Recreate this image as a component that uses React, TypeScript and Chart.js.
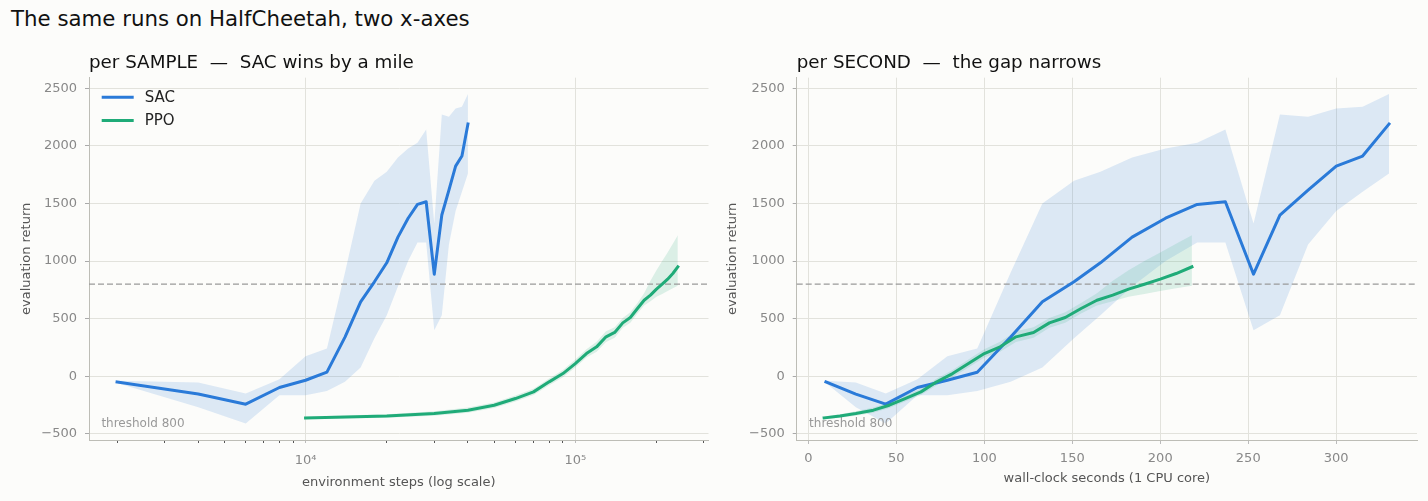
import React, { useEffect, useRef } from "react";
import { Chart, registerables } from "chart.js";

Chart.register(...registerables);

const FONT = '"DejaVu Sans", "Noto Sans", sans-serif';
Chart.defaults.font.family = FONT;

// SAC runs: evaluation every 2k environment steps
const sacSteps = [2000, 4000, 6000, 8000, 10000, 12000, 14000, 16000, 18000, 20000, 22000, 24000, 26000, 28000, 30000, 32000, 34000, 36000, 38000, 40000];
const sacSeconds = [10, 27, 44, 62, 79, 96, 115, 133, 151, 166, 184, 203, 221, 237, 253, 268, 284, 300, 315, 330];
const sacMean = [-50, -155, -243, -98, -35, 35, 340, 646, 820, 985, 1208, 1372, 1492, 1515, 886, 1400, 1616, 1825, 1912, 2190];
const sacUpper = [-40, -55, -151, -26, 174, 240, 900, 1500, 1697, 1775, 1900, 1978, 2027, 2143, 1327, 2274, 2254, 2326, 2340, 2450];
const sacLower = [-60, -270, -411, -165, -165, -128, -49, 76, 330, 530, 780, 1000, 1162, 1162, 400, 530, 1145, 1435, 1602, 1761];

// PPO runs: evaluation every 10k environment steps
const ppoSteps = [10000, 20000, 30000, 40000, 50000, 60000, 70000, 80000, 90000, 100000, 110000, 120000, 130000, 140000, 150000, 160000, 170000, 180000, 190000, 200000, 210000, 220000, 230000, 240000];
const ppoSeconds = [9, 18, 27, 37, 46, 55, 64, 73, 82, 91, 100, 109, 118, 128, 137, 146, 155, 164, 173, 182, 191, 200, 209, 218];
const ppoMean = [-362, -345, -324, -295, -252, -194, -136, -49, 23, 110, 197, 255, 342, 380, 463, 510, 588, 660, 704, 756, 799, 843, 892, 950];
const ppoUpper = [-350, -330, -305, -272, -228, -168, -108, -20, 55, 145, 235, 300, 390, 425, 505, 555, 635, 720, 830, 920, 1000, 1075, 1150, 1225];
const ppoLower = [-374, -360, -343, -318, -276, -220, -164, -78, -9, 75, 162, 212, 297, 335, 420, 465, 545, 615, 650, 690, 715, 740, 765, 785];

const yTicks = [-500, 0, 500, 1000, 1500, 2000, 2500];
const logMajorTicks = [10000, 100000];
const logMinorTicks = [2000, 3000, 4000, 5000, 6000, 7000, 8000, 9000, 20000, 30000, 40000, 50000, 60000, 70000, 80000, 90000, 200000, 300000];
const secondTicks = [0, 50, 100, 150, 200, 250, 300];
const THRESHOLD = 800;

const SAC_COLOR = "#2a7ad8";
const PPO_COLOR = "#1fab78";
const SAC_BAND = "rgba(42, 122, 216, 0.15)";
const PPO_BAND = "rgba(31, 171, 120, 0.15)";
const GRID = "#e2e2dc";
const SPINE = "#bdbdb6";
const TICK_TEXT = "#888888";
const LABEL_TEXT = "#555555";

const pts = (xs: number[], ys: number[]) => xs.map((x, i) => ({ x, y: ys[i] }));
const fmt = (v: number) => (v < 0 ? "\u2212" + Math.abs(v) : String(v));

const thresholdPlugin = {
  id: "threshold",
  beforeDatasetsDraw(chart: any) {
    const { ctx, chartArea, scales } = chart;
    const py = scales.y.getPixelForValue(THRESHOLD);
    ctx.save();
    ctx.setLineDash([6, 3]);
    ctx.strokeStyle = "#999999";
    ctx.lineWidth = 1.4;
    ctx.beginPath();
    ctx.moveTo(chartArea.left, py);
    ctx.lineTo(chartArea.right, py);
    ctx.stroke();
    ctx.setLineDash([]);
    ctx.fillStyle = "#999999";
    ctx.font = "12px " + FONT;
    ctx.textAlign = "left";
    ctx.textBaseline = "alphabetic";
    const w = chartArea.right - chartArea.left;
    const h = chartArea.bottom - chartArea.top;
    ctx.fillText("threshold " + THRESHOLD, chartArea.left + 0.02 * w, chartArea.bottom - 0.037 * h);
    ctx.restore();
  },
};

// legend drawn inside the plot area, upper left (no frame)
const insideLegendPlugin = {
  id: "insideLegend",
  afterDatasetsDraw(chart: any) {
    const { ctx, chartArea } = chart;
    const items = chart.data.datasets.filter((d: any) => d.label);
    ctx.save();
    ctx.font = "15px " + FONT;
    ctx.textAlign = "left";
    ctx.textBaseline = "middle";
    items.forEach((d: any, i: number) => {
      const y = chartArea.top + 19.5 + i * 23.3;
      const x0 = chartArea.left + 12.7;
      ctx.strokeStyle = d.borderColor;
      ctx.lineWidth = 3;
      ctx.lineCap = "butt";
      ctx.beginPath();
      ctx.moveTo(x0, y);
      ctx.lineTo(x0 + 32, y);
      ctx.stroke();
      ctx.fillStyle = "#222222";
      ctx.fillText(d.label, x0 + 43, y + 1);
    });
    ctx.restore();
  },
};

type PanelKind = "steps" | "seconds";

const buildConfig = (kind: PanelKind): any => {
  const isLog = kind === "steps";
  const sacX = isLog ? sacSteps : sacSeconds;
  const ppoX = isLog ? ppoSteps : ppoSeconds;

  const datasets = [
    {
      label: "SAC",
      data: pts(sacX, sacMean),
      borderColor: SAC_COLOR,
      backgroundColor: SAC_COLOR,
      borderWidth: 3,
      pointRadius: 0,
      borderJoinStyle: "round",
      borderCapStyle: "square",
      fill: false,
      order: 1,
    },
    {
      label: "PPO",
      data: pts(ppoX, ppoMean),
      borderColor: PPO_COLOR,
      backgroundColor: PPO_COLOR,
      borderWidth: 3,
      pointRadius: 0,
      borderJoinStyle: "round",
      borderCapStyle: "square",
      fill: false,
      order: 0,
    },
    {
      label: "",
      data: pts(sacX, sacUpper),
      borderColor: "rgba(0,0,0,0)",
      borderWidth: 0,
      pointRadius: 0,
      backgroundColor: SAC_BAND,
      fill: "+1",
      order: 3,
    },
    {
      label: "",
      data: pts(sacX, sacLower),
      borderColor: "rgba(0,0,0,0)",
      borderWidth: 0,
      pointRadius: 0,
      fill: false,
      order: 3,
    },
    {
      label: "",
      data: pts(ppoX, ppoUpper),
      borderColor: "rgba(0,0,0,0)",
      borderWidth: 0,
      pointRadius: 0,
      backgroundColor: PPO_BAND,
      fill: "+1",
      order: 2,
    },
    {
      label: "",
      data: pts(ppoX, ppoLower),
      borderColor: "rgba(0,0,0,0)",
      borderWidth: 0,
      pointRadius: 0,
      fill: false,
      order: 2,
    },
  ];

  const xScale = isLog
    ? {
        type: "logarithmic",
        min: 1574,
        max: 311900,
        afterBuildTicks: (s: any) => {
          s.ticks = [...logMinorTicks, ...logMajorTicks]
            .sort((a, b) => a - b)
            .map((v) => ({ value: v, major: logMajorTicks.includes(v) }));
        },
        afterFit: (s: any) => {
          s.height = 61;
        },
        grid: {
          color: (c: any) => (c.tick && logMajorTicks.includes(c.tick.value) ? GRID : "rgba(0,0,0,0)"),
          tickColor: (c: any) => (c.tick && logMajorTicks.includes(c.tick.value) ? "#bbbbbb" : "#555555"),
          tickLength: 3,
        },
        border: { color: SPINE },
        ticks: {
          autoSkip: false,
          maxRotation: 0,
          color: TICK_TEXT,
          font: { size: 13 },
          padding: 10,
          callback: (v: number) => (v === 10000 ? "10\u2074" : v === 100000 ? "10\u2075" : ""),
        },
        title: {
          display: true,
          text: "environment steps (log scale)",
          color: LABEL_TEXT,
          font: { size: 13 },
          padding: { top: 0, bottom: 11 },
        },
      }
    : {
        type: "linear",
        min: -6.6,
        max: 345.9,
        afterBuildTicks: (s: any) => {
          s.ticks = secondTicks.map((v) => ({ value: v }));
        },
        afterFit: (s: any) => {
          s.height = 61;
        },
        grid: { color: GRID, tickColor: "#bbbbbb", tickLength: 4 },
        border: { color: SPINE },
        ticks: {
          autoSkip: false,
          maxRotation: 0,
          color: TICK_TEXT,
          font: { size: 13 },
          padding: 7,
          callback: (v: number) => String(v),
        },
        title: {
          display: true,
          text: "wall-clock seconds (1 CPU core)",
          color: LABEL_TEXT,
          font: { size: 13 },
          padding: { top: 0, bottom: 15 },
        },
      };

  return {
    type: "line",
    data: { datasets },
    options: {
      animation: false,
      responsive: true,
      maintainAspectRatio: false,
      parsing: false,
      layout: { padding: { top: 52.5, left: 0, right: isLog ? 3 : 11, bottom: 0 } },
      elements: { line: { tension: 0 } },
      plugins: {
        filler: { drawTime: "beforeDatasetsDraw" },
        tooltip: { enabled: false },
        legend: { display: false },
        title: {
          display: true,
          text: isLog ? "per SAMPLE  \u2014  SAC wins by a mile" : "per SECOND  \u2014  the gap narrows",
          align: "start",
          fullSize: false,
          color: "#111111",
          font: { size: 18.3, weight: "normal" },
          padding: { top: 0, bottom: 3.2 },
        },
      },
      scales: {
        x: xScale,
        y: {
          type: "linear",
          min: -554,
          max: 2593,
          afterBuildTicks: (s: any) => {
            s.ticks = yTicks.map((v) => ({ value: v }));
          },
          afterFit: (s: any) => {
            s.width = isLog ? 89 : 82.7;
          },
          grid: { color: GRID, tickColor: "#aaaaaa", tickLength: 4 },
          border: { color: SPINE },
          ticks: {
            color: TICK_TEXT,
            font: { size: 13 },
            padding: 8,
            callback: (v: number) => fmt(v),
          },
          title: {
            display: true,
            text: "evaluation return",
            color: LABEL_TEXT,
            font: { size: 13 },
            padding: { top: isLog ? 19.2 : 11.2, bottom: 0 },
          },
        },
      },
    },
    plugins: isLog ? [thresholdPlugin, insideLegendPlugin] : [thresholdPlugin],
  };
};

const Panel: React.FC<{ kind: PanelKind; left: number }> = ({ kind, left }) => {
  const canvasRef = useRef<HTMLCanvasElement | null>(null);

  useEffect(() => {
    if (!canvasRef.current) return;
    const chart = new Chart(canvasRef.current, buildConfig(kind));
    return () => {
      chart.destroy();
    };
  }, [kind]);

  return (
    <div style={{ position: "absolute", left, top: 0, width: 714, height: 501 }}>
      <canvas ref={canvasRef} />
    </div>
  );
};

const App: React.FC = () => {
  return (
    <div
      style={{
        position: "fixed",
        left: 0,
        top: 0,
        width: 1428,
        height: 501,
        background: "#fcfcfa",
        overflow: "hidden",
      }}
    >
      <div
        style={{
          position: "absolute",
          left: 11,
          top: 7,
          fontFamily: FONT,
          fontSize: 21.3,
          lineHeight: "24px",
          color: "#111111",
          whiteSpace: "nowrap",
        }}
      >
        The same runs on HalfCheetah, two x-axes
      </div>
      <Panel kind="steps" left={0} />
      <Panel kind="seconds" left={714} />
    </div>
  );
};

export default App;
